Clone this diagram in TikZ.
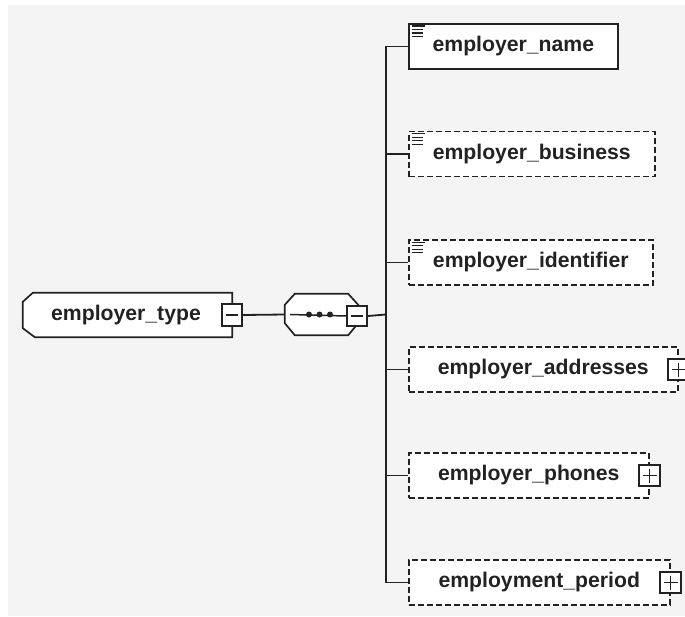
\documentclass[tikz,border=0pt]{standalone}
\usepackage{fontspec}
\setmainfont{Liberation Sans}
\usetikzlibrary{calc}
\definecolor{bg}{HTML}{F4F4F4}
\definecolor{ink}{HTML}{222222}
\begin{document}
\begin{tikzpicture}[x=1pt,y=-1pt,
  lbl/.style={font=\fontsize{21.2}{24}\selectfont\bfseries, text=ink},
  elem/.style={lbl, draw=ink, line width=1.7pt, fill=white, anchor=west, minimum height=45pt, inner sep=0pt},
  opt/.style={elem, line width=1.5pt, dash pattern=on 6pt off 3pt},
  expbox/.style={draw=ink, line width=1.6pt, fill=white, minimum width=21pt, minimum height=21pt, inner sep=0pt},
  conn/.style={draw=ink, line width=1.8pt},
  shapeline/.style={draw=ink, line width=1.7pt, fill=white, line join=miter},
  sign/.style={draw=ink, line width=1.5pt},
  doc/.style={draw=ink, line width=1.4pt}]
\useasboundingbox (0,0) rectangle (685,616);
\fill[white] (0,0) rectangle (685,616);
\fill[bg] (8,5) rectangle (685,616);

% root element
\node[minimum width=209pt, minimum height=44pt, inner sep=0pt] (etype) at (127.5,315) {};
\draw[shapeline] ($(etype.north west)+(10,0)$) -- (etype.north east) -- (etype.south east)
   -- ($(etype.south west)+(12,0)$) -- ($(etype.south west)+(0,-9)$) -- ($(etype.north west)+(0,9)$) -- cycle;
\node[lbl] (etypetext) at (126,315) {employer\_type};
\node[expbox, minimum width=20pt, minimum height=22pt] (m1) at (etype.east) {};
\draw[sign] ($(m1.center)+(-6,0)$) -- ($(m1.center)+(6,0)$);

% sequence compositor
\node[minimum width=73pt, minimum height=41pt, inner sep=0pt] (seq) at (321.5,314.5) {};
\draw[shapeline] ($(seq.north west)+(10,0)$) -- ($(seq.north east)+(-10,0)$) -- ($(seq.north east)+(0,11)$)
   -- ($(seq.south east)+(0,-12)$) -- ($(seq.south east)+(-10,0)$) -- ($(seq.south west)+(10,0)$)
   -- ($(seq.south west)+(0,-12)$) -- ($(seq.north west)+(0,11)$) -- cycle;
\coordinate (sl) at (290,314.5);
\node[expbox, minimum width=20pt, minimum height=20pt] (m2) at (357,316) {};
\draw[sign] ($(m2.center)+(-6,0)$) -- ($(m2.center)+(6,0)$);
\draw[conn, line width=1.5pt] (sl) -- (m2.west);
\foreach \x in {309,319.5,330} \fill[ink] (\x,314.5) circle (3pt);

\draw[conn] (m1.east) -- (seq.west);

% children
\node[elem, minimum width=209pt] (name) at (408,46.5) {employer\_name};
\node[opt, minimum width=246pt] (business) at (408,154) {employer\_business};
\node[opt, minimum width=244pt] (identifier) at (408,262.5) {employer\_identifier};
\node[opt, minimum width=269pt] (addresses) at (408,369.5) {employer\_addresses};
\node[opt, minimum width=240pt] (phones) at (408,475.5) {employer\_phones};
\node[opt, minimum width=261pt] (period) at (408,582.5) {employment\_period};

% doc icons
\foreach \n in {name,business,identifier}{
  \draw[doc] ($(\n.north west)+(3.5,3)$) -- ++(13,0);
  \draw[doc] ($(\n.north west)+(3.5,6.5)$) -- ++(11,0);
  \draw[doc] ($(\n.north west)+(3.5,10)$) -- ++(11,0);
  \draw[doc] ($(\n.north west)+(3.5,13.5)$) -- ++(11,0);
}

% expand boxes
\foreach \n in {addresses,phones,period}{
  \node[expbox] (p\n) at (\n.east) {};
  \draw[sign] ($(p\n.center)+(-7,0)$) -- ($(p\n.center)+(7,0)$);
  \draw[sign] ($(p\n.center)+(0,-7)$) -- ($(p\n.center)+(0,7)$);
}

% trunk and branches
\coordinate (jn) at (386,314.5);
\draw[conn] (m2.east) -- (jn);
\foreach \n in {name,business,identifier,addresses,phones,period}
  \draw[conn] (jn) |- (\n.west);
\end{tikzpicture}
\end{document}
